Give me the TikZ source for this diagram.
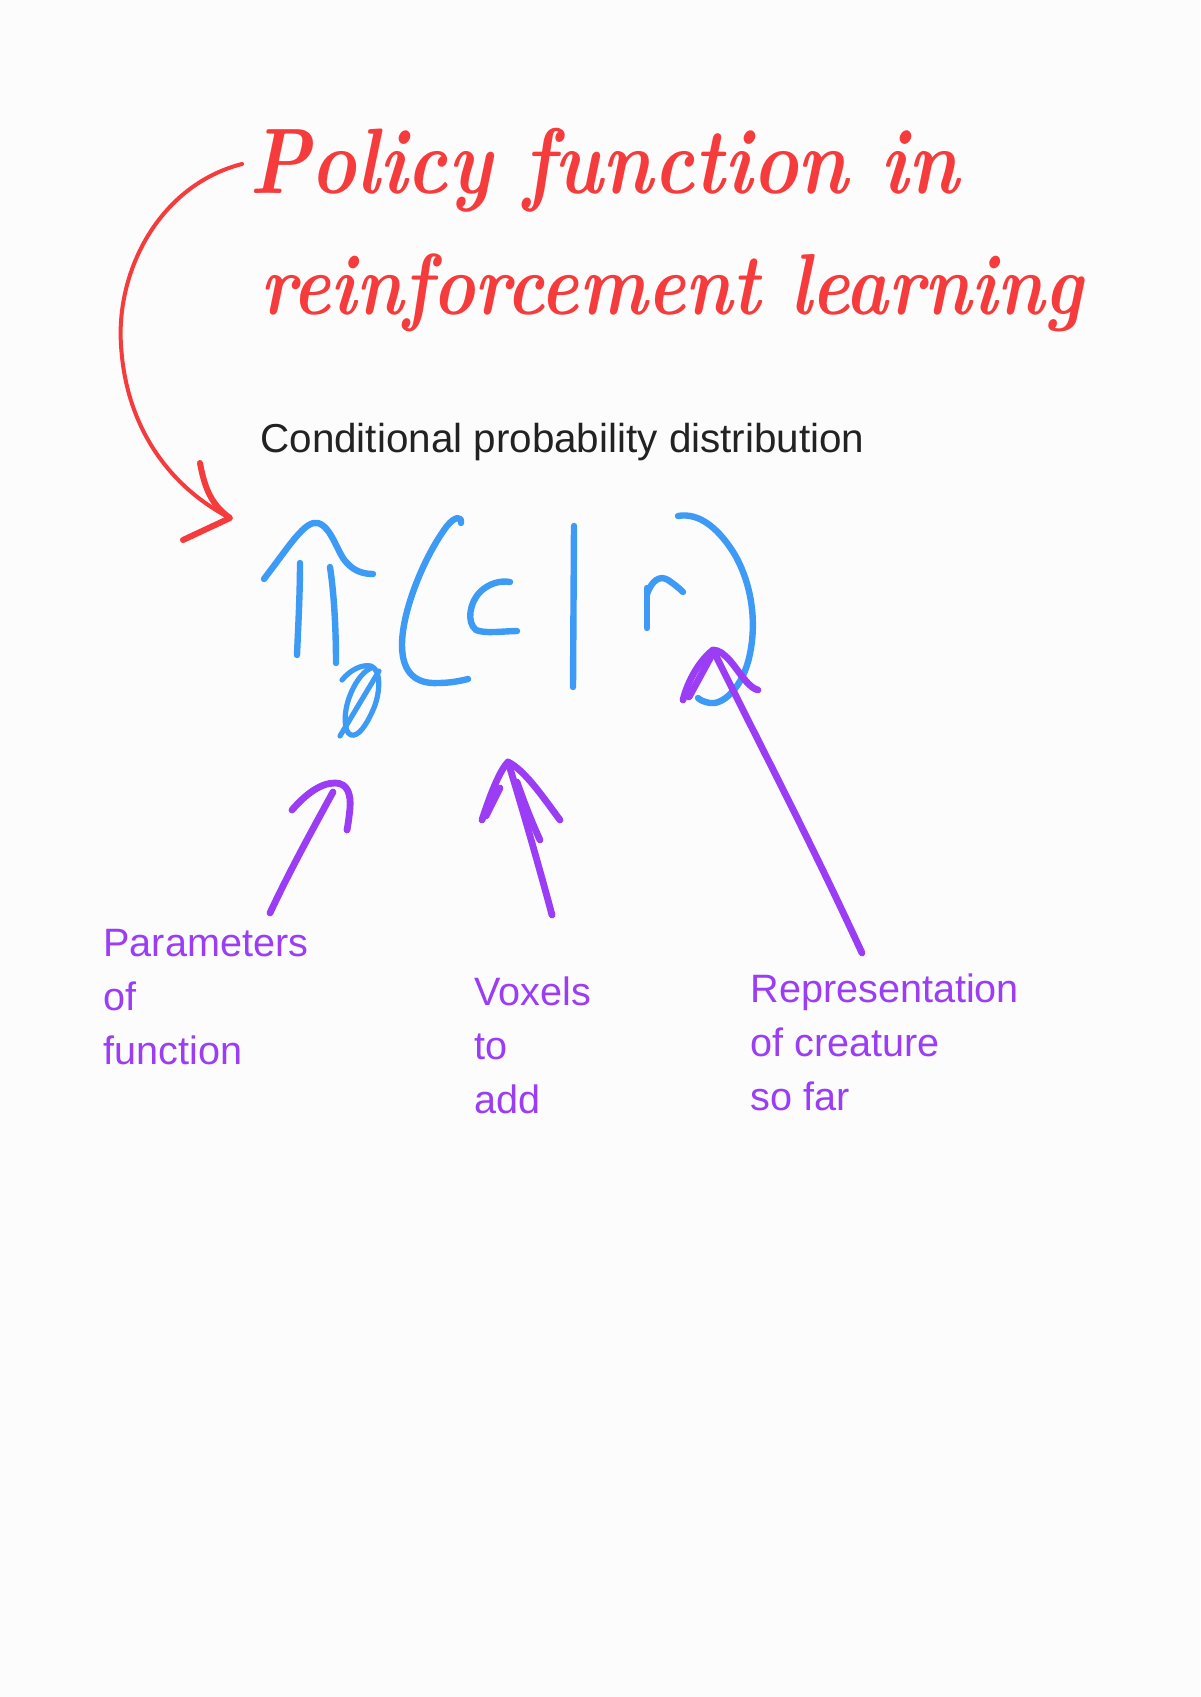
\documentclass[tikz,border=0pt]{standalone}
\usepackage{fontspec}
\newfontfamily\labelfont{Liberation Sans}
\usepackage{graphicx}
\definecolor{bgc}{HTML}{FCFCFC}
\definecolor{penred}{HTML}{F53B3B}
\definecolor{penblue}{HTML}{3D9BF5}
\definecolor{penpurple}{HTML}{9B3DF5}
\definecolor{txtc}{HTML}{222222}
\tikzset{
  redpen/.style={draw=penred, line width=2pt, line cap=round, line join=round},
  bluepen/.style={draw=penblue, line width=3.2pt, line cap=round, line join=round},
  purplepen/.style={draw=penpurple, line width=3.4pt, line cap=round, line join=round},
  titletext/.style={anchor=base west, inner sep=0pt, text=penred, font=\bfseries\itshape},
  bodytext/.style={anchor=base west, inner sep=0pt, text=txtc, font=\labelfont\fontsize{20.2}{24}\selectfont},
  labeltext/.style={anchor=base west, inner sep=0pt, text=penpurple, font=\labelfont\fontsize{19.8}{24}\selectfont},
}
\begin{document}
\begin{tikzpicture}[x=0.5pt,y=-0.5pt]
\fill[bgc] (0,0) rectangle (1200,1697);
\useasboundingbox (0,0) rectangle (1200,1697);

% title
\node[titletext] (title1) at (249,193) {\scalebox{1}[1.2]{\resizebox{354.5pt}{!}{Policy function in}}};
\node[titletext] (title2) at (260,314) {\scalebox{1}[1.2]{\resizebox{411pt}{!}{reinforcement learning}}};

% subtitle
\node[bodytext] (cond) at (260,452) {Conditional probability distribution};

% red arrow
\coordinate (rs) at (242,164);
\coordinate (rt) at (230,518);
\path[redpen] (rs) .. controls (160,185) and (116,270) .. (121,345)
  .. controls (126,430) and (172,488) .. (rt);
\path[redpen, line width=3pt] (200,463) .. controls (205,490) and (212,505) .. (rt) -- (183,540);

% blue formula pi_theta(c|r)
\path[bluepen] (264,579) .. controls (290,545) and (305,520) .. (318,523)
  .. controls (332,527) and (338,555) .. (347,563)
  .. controls (355,572) and (365,574) .. (373,574);
\path[bluepen] (300,563) .. controls (300,595) and (298,630) .. (297,655);
\path[bluepen] (330,567) .. controls (335,600) and (336,640) .. (336,663);
% theta
\path[bluepen, line width=2.6pt] (342,680) .. controls (350,670) and (362,664) .. (371,666)
  .. controls (382,670) and (380,695) .. (373,710)
  .. controls (366,726) and (358,737) .. (351,735)
  .. controls (343,732) and (344,712) .. (349,698)
  .. controls (354,684) and (362,672) .. (371,668);
\path[bluepen, line width=2.6pt] (379,671) -- (340,736);
% (
\path[bluepen] (461,523) .. controls (462,516) and (455,516) .. (447,526)
  .. controls (425,555) and (402,610) .. (402,645)
  .. controls (402,675) and (418,684) .. (438,683)
  .. controls (450,683) and (460,681) .. (468,679);
% c
\path[bluepen] (510,582) .. controls (500,580) and (488,584) .. (480,592)
  .. controls (470,602) and (466,622) .. (476,630)
  .. controls (485,634) and (505,631) .. (517,631);
% |
\path[bluepen] (574,526) -- (573,687);
% r
\path[bluepen] (647,588) -- (647,628);
\path[bluepen] (647,594) .. controls (652,580) and (660,575) .. (668,580)
  .. controls (674,584) and (679,588) .. (683,592);
% )
\path[bluepen] (678,516) .. controls (700,512) and (720,530) .. (735,555)
  .. controls (752,585) and (758,625) .. (748,662)
  .. controls (740,690) and (722,705) .. (710,703)
  .. controls (704,702) and (700,700) .. (698,698);

% purple labels
\node[labeltext] (lab1a) at (103,956) {Parameters};
\node[labeltext] (lab1b) at (103,1010) {of};
\node[labeltext] (lab1c) at (103,1064) {function};
\node[labeltext] (lab2a) at (474,1005) {Voxels};
\node[labeltext] (lab2b) at (474,1059) {to};
\node[labeltext] (lab2c) at (474,1113) {add};
\node[labeltext] (lab3a) at (750,1002) {Representation};
\node[labeltext] (lab3b) at (750,1056) {of creature};
\node[labeltext] (lab3c) at (750,1110) {so far};

% purple arrows
\coordinate (p1s) at (270,913);
\coordinate (p1t) at (333,792);
\path[purplepen] (p1s) .. controls (290,870) and (315,825) .. (p1t);
\path[purplepen] (292,810) .. controls (305,795) and (320,783) .. (335,783)
  .. controls (348,783) and (351,795) .. (350,808)
  .. controls (349,818) and (348,825) .. (347,830);

\coordinate (p2s) at (552,915);
\coordinate (p2t) at (508,762);
\path[purplepen] (p2s) .. controls (540,870) and (520,800) .. (p2t);
\path[purplepen] (482,820) .. controls (490,795) and (500,770) .. (p2t)
  .. controls (525,770) and (545,800) .. (560,820);
\path[purplepen] (500,788) -- (486,816);
\path[purplepen] (517,782) .. controls (525,805) and (533,825) .. (540,840);

\coordinate (p3s) at (862,953);
\coordinate (p3t) at (713,650);
\path[purplepen] (p3s) .. controls (810,840) and (760,745) .. (p3t);
\path[purplepen] (683,700) .. controls (688,680) and (700,660) .. (p3t)
  .. controls (725,650) and (735,668) .. (745,680)
  .. controls (750,686) and (754,689) .. (758,690);
\path[purplepen] (713,653) -- (689,697);
\end{tikzpicture}
\end{document}
